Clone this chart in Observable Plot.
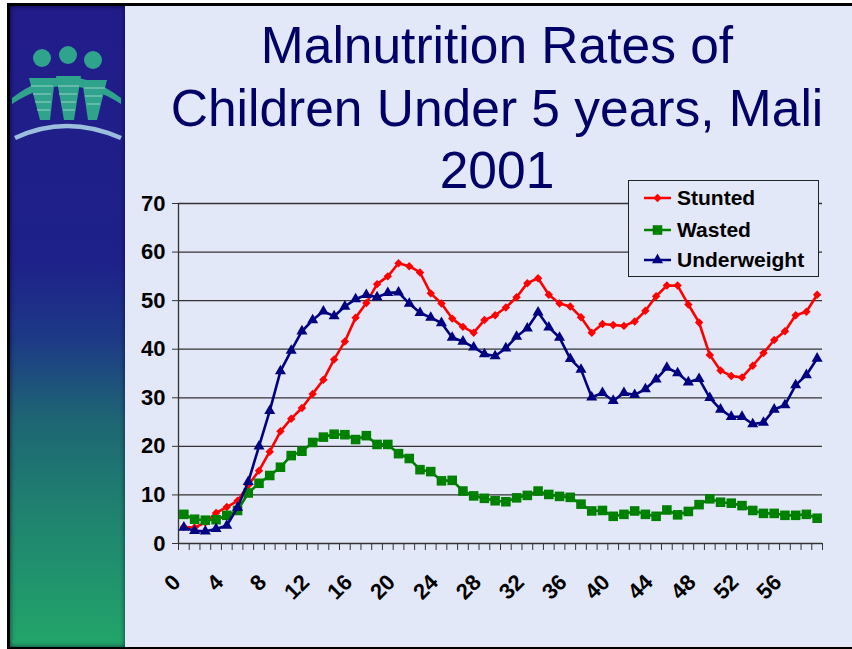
<!DOCTYPE html>
<html>
<head>
<meta charset="utf-8">
<script src="https://cdn.jsdelivr.net/npm/d3@7"></script>
<script src="https://cdn.jsdelivr.net/npm/@observablehq/plot@0.6"></script>
<style>
  html, body { margin: 0; padding: 0; background: #ffffff; width: 852px; height: 649px; overflow: hidden; }
  body { position: relative; font-family: "Liberation Sans", Arial, Helvetica, sans-serif; }
  #frame { position: absolute; left: 7px; top: 3px; width: 845px; height: 641px;
    border-top: 3px solid #000; border-left: 3px solid #000; border-bottom: 2px solid #000;
    background: #e3e8f8; }
  #strip { position: absolute; left: 10px; top: 6px; width: 115px; height: 641px;
    background: linear-gradient(to bottom, #221c8a 0%, #1e2189 40%, #1d3a86 52%, #1e6474 64%, #1f8070 78%, #22a66a 100%);
    box-shadow: inset 0 0 5px rgba(0,0,40,0.7); }
  #logo { position: absolute; left: 0; top: 0; }
  #title { position: absolute; left: 100px; width: 794px; top: 14px; text-align: center;
    color: #000066; font-size: 51.5px; line-height: 62.5px; font-weight: normal; }
  #chart { position: absolute; left: 125px; top: 190px; }
  #legend { position: absolute; left: 628px; top: 180px; width: 189px; height: 95px;
    border: 1px solid #222; background: #e3e8f8; }
  .lrow { position: absolute; left: 0; height: 30px; display: flex; align-items: center; }
  .lrow svg { position: absolute; left: 15px; }
  .lrow span { position: absolute; left: 48px; font-size: 21px; font-weight: bold; color: #000; white-space: nowrap; }
</style>
</head>
<body>
<div id="frame"></div>
<div id="strip">
  <svg id="logo" width="115" height="160" viewBox="0 0 115 160">
    <g fill="#2fa38c">
      <circle cx="32" cy="52" r="9"/>
      <circle cx="58" cy="49" r="9"/>
      <circle cx="83" cy="54" r="9"/>
      <path d="M2,92 Q56,50 111,92 L111,98 Q56,62 2,98 Z"/>
      <path d="M19,72 L45,72 L40,114 L30,114 Z"/>
      <path d="M46,70 L71,70 L64,114 L54,114 Z"/>
      <path d="M72,74 L97,74 L87,114 L78,114 Z"/>
    </g>
    <g stroke="#9fd8c8" stroke-width="1.2" opacity="0.8">
      <line x1="21" y1="80" x2="43" y2="80"/><line x1="23" y1="88" x2="41" y2="88"/><line x1="25" y1="96" x2="41" y2="96"/><line x1="27" y1="104" x2="40" y2="104"/>
      <line x1="48" y1="80" x2="69" y2="80"/><line x1="49" y1="88" x2="67" y2="88"/><line x1="51" y1="96" x2="66" y2="96"/><line x1="53" y1="104" x2="65" y2="104"/>
      <line x1="74" y1="82" x2="95" y2="82"/><line x1="75" y1="90" x2="92" y2="90"/><line x1="77" y1="98" x2="90" y2="98"/>
    </g>
    <path d="M5,132 Q56,108 111,132" fill="none" stroke="#a8cfe6" stroke-width="4.5" opacity="0.9"/>
  </svg>
</div>
<div id="title">Malnutrition Rates of<br>Children Under 5 years, Mali<br>2001</div>
<div id="chart"></div>
<div id="legend"></div>
<script>
// ---- data ----
const months = [0,1,2,3,4,5,6,7,8,9,10,11,12,13,14,15,16,17,18,19,20,21,22,23,24,25,26,27,28,29,
                30,31,32,33,34,35,36,37,38,39,40,41,42,43,44,45,46,47,48,49,50,51,52,53,54,55,56,57,58,59];
const stunted = [3.4,3.3,4.3,6.3,7.5,8.8,12.0,15.0,18.9,23.1,25.7,27.9,30.8,33.7,37.9,41.6,46.5,49.5,53.4,55.0,
                 57.7,57.1,55.8,51.5,49.4,46.3,44.6,43.4,46.0,47.0,48.6,50.7,53.6,54.6,51.2,49.4,48.8,46.6,43.4,45.2,
                 45.0,44.8,45.7,47.9,50.9,53.1,53.1,49.2,45.5,38.8,35.6,34.5,34.2,36.6,39.2,41.9,43.7,47.0,47.7,51.2];
const wasted = [6.0,5.0,4.8,4.9,5.8,6.8,10.4,12.4,14.0,15.7,18.1,19.0,20.8,21.9,22.5,22.4,21.4,22.2,20.4,20.4,
                18.5,17.5,15.2,14.8,12.9,13.0,10.8,9.8,9.3,8.8,8.6,9.4,9.9,10.8,10.1,9.7,9.5,8.1,6.7,6.8,
                5.6,6.0,6.7,6.0,5.6,6.9,5.9,6.6,8.0,9.2,8.5,8.3,7.8,6.8,6.2,6.2,5.8,5.8,6.0,5.2];
const underweight = [3.3,2.6,2.5,3.0,3.7,7.4,12.7,20.0,27.3,35.5,39.7,43.7,46.0,47.8,46.8,48.8,50.3,51.2,50.7,51.6,
                     51.7,49.4,47.5,46.5,45.4,42.4,41.6,40.4,39.0,38.6,40.2,42.6,44.3,47.6,44.5,42.4,38.0,35.8,30.1,31.0,
                     29.4,31.0,30.6,31.8,33.8,36.2,35.1,33.2,33.9,30.0,27.6,26.1,26.1,24.6,24.9,27.6,28.5,32.6,34.7,38.1];
const seriesNames = ["Stunted", "Wasted", "Underweight"];
const seriesColors = ["#ff0000", "#008000", "#000080"];
const seriesSymbols = ["diamond2", "square", "triangle"];
const seriesRadius = [3.8, 5.4, 4.1];
const yTicks = [0, 10, 20, 30, 40, 50, 60, 70];
const xTickLabels = [0, 4, 8, 12, 16, 20, 24, 28, 32, 36, 40, 44, 48, 52, 56];

const seriesValues = [stunted, wasted, underweight];
const tickBounds = months.map(m => m - 0.5).concat([months[months.length - 1] + 0.5]);

const seriesMarks = seriesNames.flatMap((name, k) => {
  const rows = months.map((m, i) => ({month: m, value: seriesValues[k][i], series: name}));
  return [
    Plot.line(rows, {x: "month", y: "value", stroke: seriesColors[k], strokeWidth: 2.6}),
    Plot.dot(rows, {x: "month", y: "value", symbol: seriesSymbols[k], r: seriesRadius[k], fill: seriesColors[k], stroke: "none"})
  ];
});

const chart = Plot.plot({
  width: 715,
  height: 430,
  marginLeft: 53,
  marginRight: 18,
  marginTop: 13,
  marginBottom: 77,
  style: {background: "transparent", fontFamily: "'Liberation Sans', Arial, sans-serif", fontSize: "22px", fontWeight: "bold", color: "#000", overflow: "visible"},
  x: {type: "linear", domain: [-0.5, 59.5]},
  y: {domain: [0, 70]},
  marks: [
    Plot.gridY(yTicks.slice(1), {stroke: "#333", strokeOpacity: 1, strokeWidth: 1.3}),
    Plot.ruleX([-0.5], {stroke: "#333", strokeWidth: 1.3}),
    Plot.ruleY([0], {stroke: "#333", strokeWidth: 1.3}),
    Plot.axisY(yTicks, {tickSize: 6, tickPadding: 7, stroke: "#333", fontSize: 22, fontWeight: "bold", label: null}),
    Plot.axisX(tickBounds, {tickSize: 7, stroke: "#333", tickFormat: () => "", label: null}),
    Plot.axisX(xTickLabels, {tickSize: 0, tickPadding: 35, tickRotate: -45, dx: -7, fontSize: 22, fontWeight: "bold", label: null}),
    ...seriesMarks
  ]
});
document.getElementById("chart").appendChild(chart);

// ---- legend ----
const symbolMap = {diamond2: d3.symbolDiamond2, square: d3.symbolSquare, triangle: d3.symbolTriangle};
const legend = d3.select("#legend");
const rowTops = [1.5, 33.5, 63.5];
seriesNames.forEach((name, k) => {
  const row = legend.append("div").attr("class", "lrow").style("top", rowTops[k] + "px");
  const svg = row.append("svg").attr("width", 28).attr("height", 16);
  svg.append("line").attr("x1", 0).attr("x2", 27).attr("y1", 8).attr("y2", 8)
    .attr("stroke", seriesColors[k]).attr("stroke-width", 2.5);
  svg.append("path").attr("transform", "translate(13.5,8)")
    .attr("d", d3.symbol(symbolMap[seriesSymbols[k]], Math.PI * seriesRadius[k] * seriesRadius[k])())
    .attr("fill", seriesColors[k]);
  row.append("span").text(name);
});
</script>
</body>
</html>
